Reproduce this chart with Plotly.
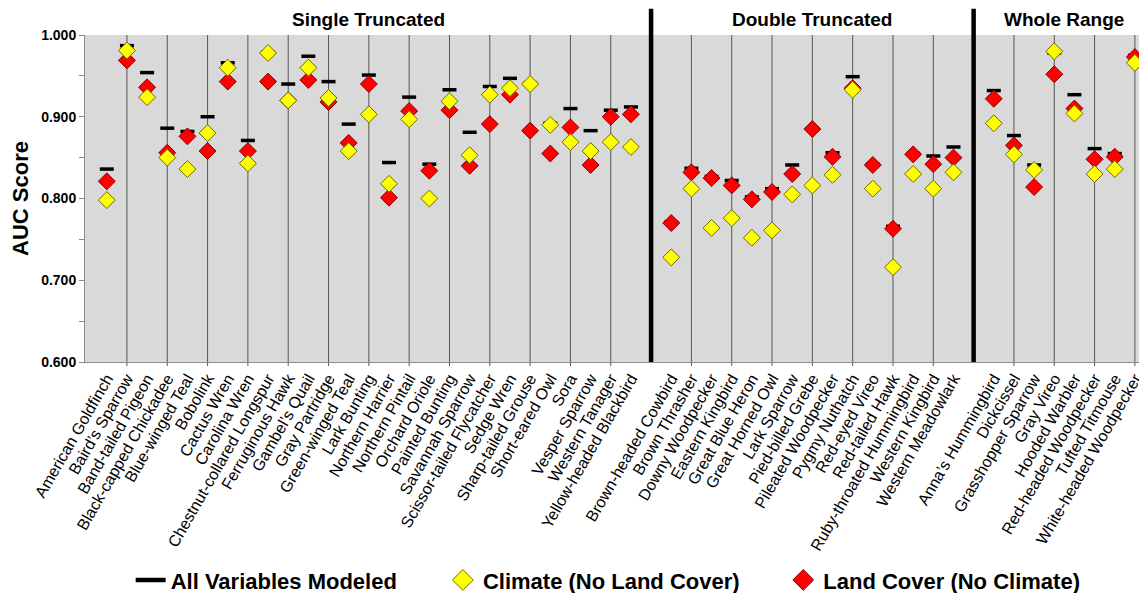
import plotly.graph_objects as go

# ---------------- data ----------------
single_names = ["American Goldfinch", "Baird’s Sparrow", "Band-tailed Pigeon", "Black-capped Chickadee",
                "Blue-winged Teal", "Bobolink", "Cactus Wren", "Carolina Wren", "Chestnut-collared Longspur",
                "Ferruginous Hawk", "Gambel’s Quail", "Gray Partridge", "Green-winged Teal", "Lark Bunting",
                "Northern Harrier", "Northern Pintail", "Orchard Oriole", "Painted Bunting", "Savannah Sparrow",
                "Scissor-tailed Flycatcher", "Sedge Wren", "Sharp-tailed Grouse", "Short-eared Owl", "Sora",
                "Vesper Sparrow", "Western Tanager", "Yellow-headed Blackbird"]
single_all = [0.836, 0.987, 0.954, 0.886, 0.882, 0.900, 0.966, 0.871, 0.979, 0.940, 0.974, 0.943, 0.891, 0.951,
              0.844, 0.924, 0.842, 0.933, 0.881, 0.937, 0.947, 0.941, 0.892, 0.910, 0.883, 0.908, 0.912]
single_clim = [0.798, 0.981, 0.924, 0.850, 0.836, 0.880, 0.960, 0.843, 0.978, 0.920, 0.960, 0.923, 0.858, 0.903,
               0.818, 0.897, 0.800, 0.919, 0.853, 0.927, 0.935, 0.940, 0.890, 0.869, 0.858, 0.869, 0.863]
single_land = [0.821, 0.969, 0.936, 0.856, 0.876, 0.858, 0.943, 0.858, 0.943, 0.920, 0.945, 0.918, 0.868, 0.940,
               0.801, 0.907, 0.834, 0.908, 0.840, 0.891, 0.927, 0.883, 0.855, 0.887, 0.841, 0.900, 0.903]

double_names = ["Brown-headed Cowbird", "Brown Thrasher", "Downy Woodpecker", "Eastern Kingbird",
                "Great Blue Heron", "Great Horned Owl", "Lark Sparrow", "Pied-billed Grebe",
                "Pileated Woodpecker", "Pygmy Nuthatch", "Red-eyed Vireo", "Red-tailed Hawk",
                "Ruby-throated Hummingbird", "Western Kingbird", "Western Meadowlark"]
double_all = [0.771, 0.837, 0.827, 0.822, 0.802, 0.812, 0.841, 0.885, 0.856, 0.949, 0.842, 0.766, 0.855, 0.852, 0.863]
double_clim = [0.728, 0.812, 0.764, 0.776, 0.752, 0.761, 0.805, 0.816, 0.829, 0.933, 0.812, 0.716, 0.830, 0.812, 0.832]
double_land = [0.770, 0.832, 0.825, 0.816, 0.799, 0.808, 0.830, 0.885, 0.851, 0.935, 0.841, 0.763, 0.854, 0.842, 0.850]

whole_names = ["Anna’s Hummingbird", "Dickcissel", "Grasshopper Sparrow", "Gray Vireo", "Hooded Warbler",
               "Red-headed Woodpecker", "Tufted Titmouse", "White-headed Woodpecker"]
whole_all = [0.932, 0.877, 0.841, 0.978, 0.927, 0.861, 0.855, 0.975]
whole_clim = [0.892, 0.854, 0.835, 0.980, 0.904, 0.830, 0.836, 0.966]
whole_land = [0.922, 0.865, 0.814, 0.952, 0.910, 0.848, 0.851, 0.973]

group_titles = ["Single Truncated", "Double Truncated", "Whole Range"]
y_ticks = [0.6, 0.7, 0.8, 0.9, 1.0]

# ---------------- positions (one empty slot between groups) ----------------
groups = [(single_names, single_all, single_clim, single_land),
          (double_names, double_all, double_clim, double_land),
          (whole_names, whole_all, whole_clim, whole_land)]
xs, names, v_all, v_clim, v_land = [], [], [], [], []
separators, group_centers = [], []
slot = 1
for gi, (n, a, c, l) in enumerate(groups):
    start = slot
    for i in range(len(n)):
        xs.append(slot)
        names.append(n[i])
        v_all.append(a[i]); v_clim.append(c[i]); v_land.append(l[i])
        slot += 1
    group_centers.append((start + slot - 1) / 2)
    if gi < len(groups) - 1:
        separators.append(slot)
        slot += 1

font_family = "Liberation Sans, Arial, sans-serif"

fig = go.Figure()
fig.add_trace(go.Scatter(x=xs, y=v_all, mode="markers", showlegend=False,
                         marker=dict(symbol="line-ew", size=10, color="black",
                                     line=dict(color="black", width=3.5))))
fig.add_trace(go.Scatter(x=xs, y=v_land, mode="markers", showlegend=False,
                         marker=dict(symbol="diamond", size=13, color="#ff0000",
                                     line=dict(color="#8a0000", width=1))))
fig.add_trace(go.Scatter(x=xs, y=v_clim, mode="markers", showlegend=False,
                         marker=dict(symbol="diamond", size=13, color="#ffff00",
                                     line=dict(color="#6b6b00", width=1))))

# legend proxies
fig.add_trace(go.Scatter(x=[None], y=[None], mode="lines", name="All Variables Modeled",
                         line=dict(color="black", width=4.5), legend="legend"))
fig.add_trace(go.Scatter(x=[None], y=[None], mode="markers", name="Climate (No Land Cover)",
                         marker=dict(symbol="diamond", size=16, color="#ffff00",
                                     line=dict(color="#6b6b00", width=1)), legend="legend2"))
fig.add_trace(go.Scatter(x=[None], y=[None], mode="markers", name="Land Cover (No Climate)",
                         marker=dict(symbol="diamond", size=16, color="#ff0000",
                                     line=dict(color="#8a0000", width=1)), legend="legend3"))

shapes = []
grid_slots = [s for s in xs if s % 2 == 0]
for s in grid_slots:
    shapes.append(dict(type="line", xref="x", yref="paper", x0=s, x1=s, y0=-0.012, y1=1,
                       line=dict(color="#555555", width=1), layer="below"))
for s in separators:
    shapes.append(dict(type="line", xref="x", yref="paper", x0=s, x1=s, y0=0, y1=1.08,
                       line=dict(color="black", width=4.5), layer="above"))

annotations = []
for t, cx in zip(group_titles, group_centers):
    annotations.append(dict(text=t, x=cx, xref="x", y=1.046, yref="paper", yanchor="middle",
                            showarrow=False, font=dict(size=19, color="black", weight="bold",
                                                       family=font_family)))

leg_font = dict(size=22, color="black", weight="bold", family=font_family)
# page body adds an 8px offset; the figure is sized so the plot area lands at x 85..1147, y 35..362
fig.update_layout(
    width=1139, height=585, autosize=False,
    margin=dict(l=77, r=0, t=27, b=231, autoexpand=False),
    paper_bgcolor="white", plot_bgcolor="#d9d9d9",
    font=dict(family=font_family, color="black"),
    shapes=shapes, annotations=annotations,
    legend=dict(x=0.043, y=-0.667, xanchor="left", yanchor="middle", font=leg_font,
                bgcolor="rgba(0,0,0,0)"),
    legend2=dict(x=0.337, y=-0.667, xanchor="left", yanchor="middle", font=leg_font,
                 bgcolor="rgba(0,0,0,0)"),
    legend3=dict(x=0.6575, y=-0.667, xanchor="left", yanchor="middle", font=leg_font,
                 bgcolor="rgba(0,0,0,0)"),
    xaxis=dict(range=[-0.08, 52.6], tickmode="array", tickvals=xs, ticktext=names,
               tickangle=-60, ticks="", showgrid=False, zeroline=False, automargin=False,
               showline=True, linecolor="#8c8c8c", linewidth=1,
               tickfont=dict(size=16, color="black", family=font_family)),
    yaxis=dict(range=[0.6, 1.0], tickmode="array", tickvals=y_ticks, tickformat=".3f",
               ticks="outside", ticklen=5, tickcolor="#8c8c8c", automargin=False,
               minor=dict(dtick=0.05, tick0=0.6, ticks="outside", ticklen=5, tickcolor="#8c8c8c"),
               showgrid=False, zeroline=False, showline=True, linecolor="#8c8c8c", linewidth=1,
               tickfont=dict(size=14, color="black", weight="bold", family=font_family),
               title=dict(text="AUC Score", standoff=10,
                          font=dict(size=22, color="black", weight="bold", family=font_family))),
)

fig.write_html("out.html")
